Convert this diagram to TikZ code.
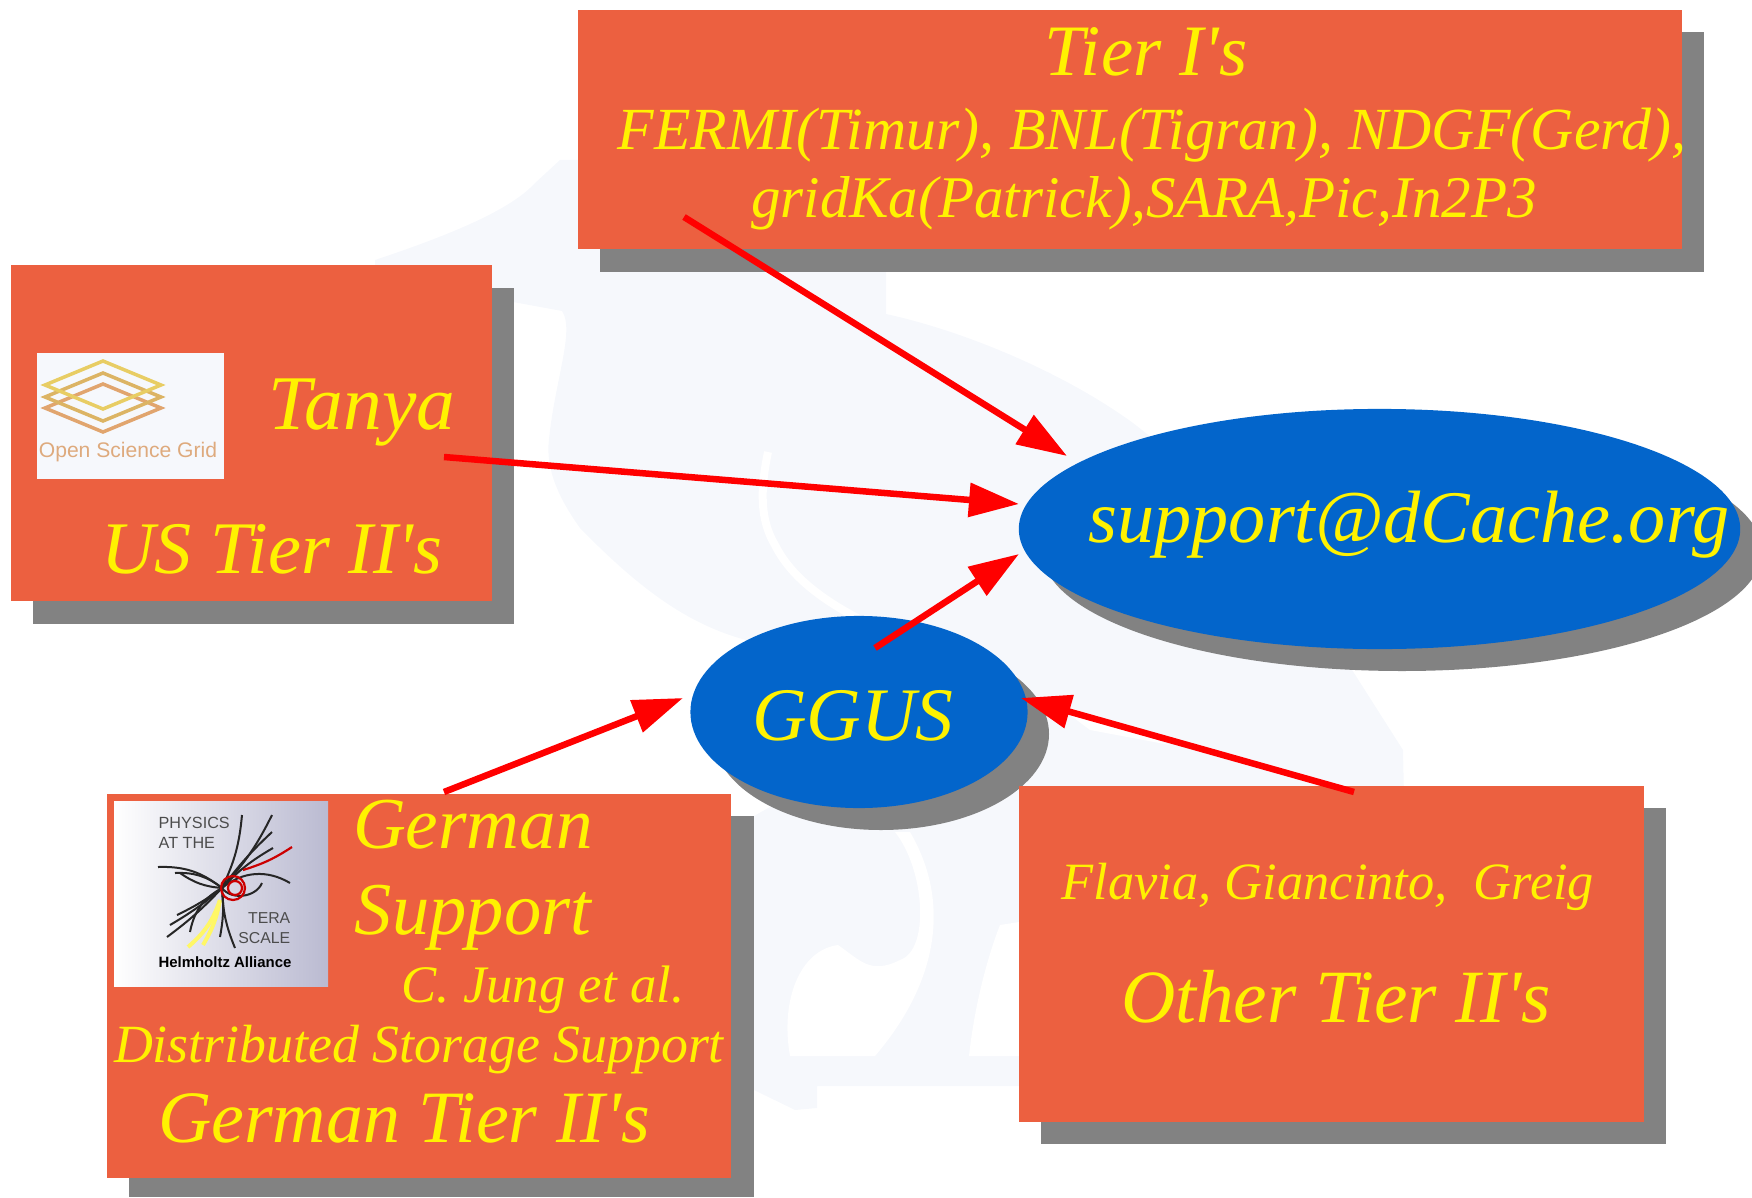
\documentclass[tikz,border=0pt]{standalone}
\usepackage{fontspec}
\setmainfont[Ligatures=TeXOff]{Liberation Serif}
\setsansfont{Liberation Sans}
\usetikzlibrary{arrows.meta,shapes.geometric}
\definecolor{boxred}{RGB}{236,96,64}
\definecolor{ovalblue}{RGB}{3,101,203}
\definecolor{shadowgray}{RGB}{130,130,130}
\definecolor{paleblue}{RGB}{246,248,252}
\definecolor{osgtan}{RGB}{222,170,125}
\definecolor{osgone}{RGB}{225,165,110}
\definecolor{osgtwo}{RGB}{220,180,100}
\definecolor{osgthree}{RGB}{232,205,100}
\tikzset{
  tierbox/.style={fill=boxred,draw=none,anchor=north west,inner sep=0pt},
  oval/.style={fill=ovalblue,draw=none,ellipse,inner sep=0pt},
  shade/.style={fill=shadowgray,draw=none},
  say/.style={text=yellow,inner sep=0pt,align=center},
  feed/.style={red,line width=0.065cm,-{Triangle[length=0.5cm,width=0.33cm]}}
}
\newcommand{\saysize}[1]{\fontsize{#1}{#1}\selectfont\itshape}
\begin{document}
\begin{tikzpicture}[x=0.01cm,y=-0.01cm]
   \useasboundingbox (0,0) rectangle (1752,1197);
   % watermark behind everything
   \fill[paleblue] (375,260) .. controls (450,235) and (510,210) .. (534,184) -- (560,160)
      -- (886,160) -- (886,314)
      .. controls (960,330) and (1060,370) .. (1133,423)
      .. controls (1220,490) and (1290,570) .. (1333,640)
      -- (1403,750) -- (1410,1086) -- (817,1086)
      -- (817,1108) -- (795,1110) -- (754,1090) -- (754,816) -- (800,790) -- (758,643)
      .. controls (700,630) and (650,600) .. (580,528)
      .. controls (560,500) and (545,470) .. (549,439)
      .. controls (555,380) and (575,330) .. (562,311) -- (513,302) -- (375,300) -- cycle;
   % white holes in the watermark
   \fill[white] (790,1056) .. controls (780,1000) and (800,950) .. (838,945)
      .. controls (860,960) and (870,975) .. (900,960)
      .. controls (930,950) and (925,870) .. (895,832) -- (910,832)
      .. controls (950,900) and (940,980) .. (875,1056) -- cycle;
   \fill[white] (969,1056) .. controls (975,1000) and (990,950) .. (1000,925) -- (1019,922) -- (1019,1056) -- cycle;
   \fill[white] (1050,700) -- (1170,745) -- (1090,730) -- cycle;
   \draw[white,line width=0.08cm] (768,452) .. controls (760,490) and (760,520) .. (775,545)
      .. controls (790,575) and (820,600) .. (871,625);
   % shadows
   \fill[shade] (600,32) rectangle (1704,272);
   \fill[shade] (33,288) rectangle (514,624);
   \fill[shade] (129,816) rectangle (754,1197);
   \fill[shade] (1041,808) rectangle (1666,1144);
   \fill[shade] (1402,551) ellipse (360 and 120);
   \fill[shade] (881,734) ellipse (168 and 96);
   % boxes
   \node[tierbox,minimum width=11.04cm,minimum height=2.39cm] (tierone) at (577,9) {};
   \node[tierbox,minimum width=4.81cm,minimum height=3.36cm] (ustier) at (10,264) {};
   \node[tierbox,minimum width=6.24cm,minimum height=3.84cm] (german) at (106,793) {};
   \node[tierbox,minimum width=6.25cm,minimum height=3.36cm] (other) at (1018,785) {};
   \node[oval,minimum width=7.21cm,minimum height=2.4cm] (support) at (1379.5,529) {};
   \node[oval,minimum width=3.37cm,minimum height=1.92cm] (ggus) at (859,712) {};
   % texts
   \node[say,font=\saysize{20.6}] (tieronet) at (1146,52) {Tier I's};
   \node[say,font=\saysize{17}] (tieronea) at (1152,135) {FERMI(Timur), BNL(Tigran), NDGF(Gerd),};
   \node[say,font=\saysize{16.8}] (tieroneb) at (1144,203) {gridKa(Patrick),SARA,Pic,In2P3};
   \node[say,font=\saysize{22}] (tanya) at (362,413) {Tanya};
   \node[say,font=\saysize{21.1}] (ustiert) at (272,549) {US Tier II's};
   \node[say,font=\saysize{20.8}] (germant) at (473,825) {German};
   \node[say,font=\saysize{21.2}] (supportt) at (473,918) {Support};
   \node[say,font=\saysize{15}] (jung) at (543,990) {C. Jung et al.};
   \node[say,font=\saysize{15.3}] (dist) at (419,1050) {Distributed Storage Support};
   \node[say,font=\saysize{21}] (germantt) at (404,1118) {German Tier II's};
   \node[say,font=\saysize{14.9}] (flavia) at (1328,887) {Flavia, Giancinto,~~Greig};
   \node[say,font=\saysize{21.4}] (othert) at (1336,997) {Other Tier II's};
   \node[say,font=\saysize{21.1}] (supportm) at (1409,525) {support@dCache.org};
   \node[say,font=\saysize{21.5}] (ggust) at (853,716) {GGUS};
   % Open Science Grid logo
   \node[fill=paleblue,draw=none,inner sep=0pt,minimum width=1.87cm,minimum height=1.26cm,anchor=north west] (osg) at (36,352) {};
   \foreach \yy/\cc in {408/osgone,397/osgtwo,385/osgthree}
     \draw[\cc,line width=0.035cm] (45,\yy) -- (103,\yy-24) -- (161,\yy) -- (103,\yy+24) -- cycle;
   \node[font=\sffamily\fontsize{6}{6}\selectfont,text=osgtan,inner sep=0pt] (osgt) at (128,452) {Open Science Grid};
   % Helmholtz logo
   \shade[left color=white,right color=blue!20!gray!45!white] (114,801) rectangle (328,986);
   \node[font=\sffamily\fontsize{4.6}{5.7}\selectfont,align=left,inner sep=0pt,text=black!70,anchor=west] (phys) at (158,833) {PHYSICS\\AT THE};
   \node[font=\sffamily\fontsize{4.5}{5.7}\selectfont,align=right,inner sep=0pt,text=black!70,anchor=east] (tera) at (291,928) {TERA\\SCALE};
   \node[font=\sffamily\bfseries\fontsize{4.25}{5}\selectfont,inner sep=0pt] (helm) at (225,962) {Helmholtz Alliance};
   \coordinate (hub) at (222,888);
   \draw[yellow!60,line width=0.04cm] (220,900) to[bend left=15] (188,947);
   \draw[yellow!60,line width=0.04cm] (220,900) to[bend left=10] (203,945);
   \foreach \xx/\yy/\bb in {272/815/-8,242/815/-10,273/848/8,272/832/5,158/867/-20,175/873/-20,180/873/15,167/937/5,170/925/5,177/915/5,235/948/-10,220/937/8,190/932/-25,290/883/35,262/883/-60}
     \draw[black!85,line width=0.02cm] (hub) to[bend left=\bb] (\xx,\yy);
   \draw[red!80!black,line width=0.022cm] (243,870) to[bend right=8] (292,847);
   \draw[red!80!black,line width=0.022cm] (233,888) circle (12) (235,888) circle (7);
   % arrows
   \coordinate (tierout) at (684,217);
   \coordinate (supa) at (1067,456);
   \coordinate (usout) at (444,457);
   \coordinate (supb) at (1019,504);
   \coordinate (ggusout) at (875,648);
   \coordinate (supc) at (1019,554);
   \coordinate (gerout) at (444,792);
   \coordinate (ggusa) at (683,698);
   \coordinate (othout) at (1354,792);
   \coordinate (ggusb) at (1021,698);
   \draw[feed] (tierout) -- (supa);
   \draw[feed] (usout) -- (supb);
   \draw[feed] (ggusout) -- (supc);
   \draw[feed] (gerout) -- (ggusa);
   \draw[feed] (othout) -- (ggusb);
\end{tikzpicture}
\end{document}
